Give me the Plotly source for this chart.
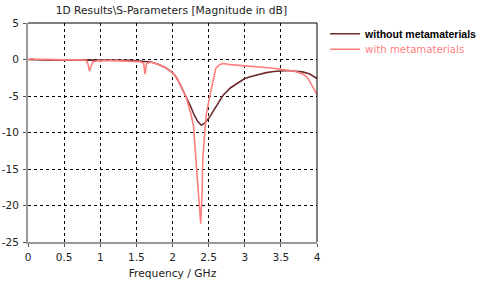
import plotly.graph_objects as go

# Data
freq_without = [0, 0.1, 0.2, 0.3, 0.5, 0.7, 1.0, 1.2, 1.4, 1.5, 1.6, 1.7, 1.8, 1.9, 2.0, 2.05, 2.1,
                2.15, 2.2, 2.25, 2.3, 2.35, 2.4, 2.45, 2.5, 2.55, 2.6, 2.66, 2.7, 2.8, 2.9, 3.0,
                3.1, 3.2, 3.3, 3.4, 3.5, 3.6, 3.7, 3.8, 3.9, 3.95, 4.0]
s_without = [0.0, -0.05, 0.0, -0.1, -0.05, -0.05, -0.1, -0.1, -0.12, -0.18, -0.25, -0.35, -0.65,
             -1.1, -1.8, -2.4, -3.3, -4.3, -5.3, -6.4, -7.6, -8.5, -9.0, -8.7, -8.1, -7.3, -6.4,
             -5.5, -4.9, -3.9, -3.2, -2.6, -2.3, -2.0, -1.8, -1.65, -1.55, -1.5, -1.6, -1.7, -2.0,
             -2.3, -2.6]

freq_with = [0, 0.05, 0.1, 0.2, 0.3, 0.5, 0.7, 0.8, 0.83, 0.85, 0.87, 0.9, 0.95, 1.0, 1.2, 1.4,
             1.55, 1.6, 1.62, 1.64, 1.7, 1.8, 1.9, 2.0, 2.05, 2.1, 2.15, 2.19, 2.25, 2.29, 2.33,
             2.36, 2.39, 2.41, 2.42, 2.45, 2.47, 2.52, 2.56, 2.6, 2.65, 2.7, 2.8, 3.0, 3.2, 3.4,
             3.5, 3.6, 3.7, 3.8, 3.85, 3.9, 3.95, 4.0]
s_with = [0.0, 0.1, 0.05, 0.0, 0.0, -0.05, -0.05, -0.1, -0.6, -1.6, -1.0, -0.3, -0.2, -0.15,
          -0.15, -0.2, -0.3, -0.5, -2.0, -0.6, -0.35, -0.65, -1.1, -1.8, -2.4, -3.3, -4.3, -5.2,
          -7.3, -9.0, -14.5, -19.0, -22.5, -18.0, -13.5, -9.5, -7.4, -4.8, -2.8, -1.2, -0.7,
          -0.55, -0.7, -0.85, -1.0, -1.2, -1.35, -1.5, -1.65, -2.0, -2.3, -3.0, -4.0, -4.8]

x_ticks = [0, 0.5, 1, 1.5, 2, 2.5, 3, 3.5, 4]
y_ticks = [5, 0, -5, -10, -15, -20, -25]

FONT = "DejaVu Sans"
TXT = "#222222"

fig = go.Figure()
fig.add_trace(go.Scatter(x=freq_without, y=s_without, mode="lines",
                         name="without metamaterials",
                         line=dict(color="#6e2c2c", width=1.6), legend="legend"))
fig.add_trace(go.Scatter(x=freq_with, y=s_with, mode="lines",
                         name="with metamaterials",
                         line=dict(color="#ff7f7f", width=1.6), legend="legend2"))

# top and right frame lines (black)
fig.add_shape(type="line", xref="paper", yref="paper", x0=0, x1=1, y0=1, y1=1,
              line=dict(color="black", width=1))
fig.add_shape(type="line", xref="paper", yref="paper", x0=1, x1=1, y0=0, y1=1,
              line=dict(color="black", width=1))

fig.update_layout(
    width=480, height=281,
    margin=dict(l=28, r=163, t=23, b=39, autoexpand=False),
    paper_bgcolor="white", plot_bgcolor="white",
    font=dict(family=FONT, size=10.5, color=TXT),
    title=dict(text="1D Results\\S-Parameters [Magnitude in dB]", x=0.357, xanchor="center",
               xref="container", yref="container", y=1 - 10 / 281, yanchor="middle",
               font=dict(family=FONT, size=10.7, color=TXT)),
    showlegend=True,
    legend=dict(x=1.028, y=1 - (33.7 - 23) / 219, xanchor="left", yanchor="middle",
                bgcolor="rgba(0,0,0,0)", itemwidth=30,
                font=dict(family="Liberation Sans", size=10.5, color="black", weight="bold")),
    legend2=dict(x=1.028, y=1 - (49.3 - 23) / 219, xanchor="left", yanchor="middle",
                 bgcolor="rgba(0,0,0,0)", itemwidth=30,
                 font=dict(family=FONT, size=10.2, color="#ff7f7f")),
    xaxis=dict(range=[0, 4], tickvals=x_ticks, ticktext=[str(v) for v in x_ticks],
               showgrid=True, gridcolor="black", griddash="dot", gridwidth=1,
               showline=True, linecolor="#999999", linewidth=2, zeroline=False,
               ticks="outside", ticklen=3, tickcolor="#555555", tickwidth=1,
               automargin=False, ticklabelstandoff=1,
               title=dict(text="Frequency / GHz", standoff=8,
                          font=dict(family=FONT, size=10.7, color=TXT))),
    yaxis=dict(range=[-25, 5], tickvals=y_ticks, ticktext=[str(v) for v in y_ticks],
               showgrid=True, gridcolor="black", griddash="dot", gridwidth=1,
               showline=True, linecolor="#999999", linewidth=2, zeroline=False,
               ticks="outside", ticklen=3, tickcolor="#555555", tickwidth=1,
               automargin=False, ticklabelstandoff=2),
)

fig.write_html("out.html", config={"displayModeBar": False},
               post_script="document.body.style.margin='0';document.body.style.overflow='hidden';")
